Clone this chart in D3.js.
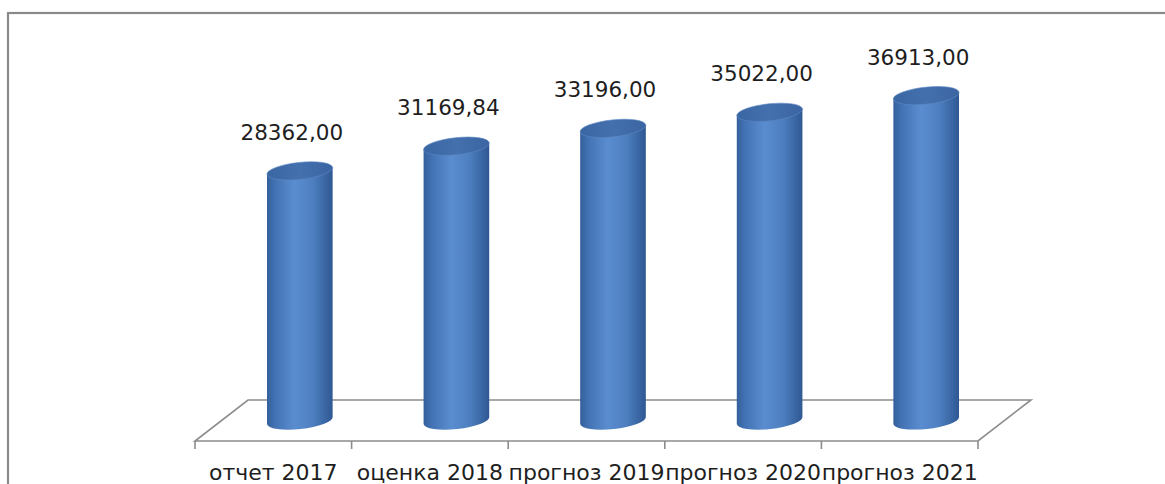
<!DOCTYPE html>
<html>
<head>
<meta charset="utf-8">
<script src="https://cdn.jsdelivr.net/npm/d3@7"></script>
<style>
  body { margin: 0; background: #fff; }
  svg { display: block; }
  .val { font-family: "DejaVu Sans", sans-serif; font-size: 21.5px; fill: #1e1e1e; }
  .cat text { font-family: "DejaVu Sans", sans-serif; font-size: 22px; fill: #1e1e1e; }
</style>
</head>
<body>
<div id="chart"></div>
<script>
// chart data
const categories = ["отчет 2017", "оценка 2018", "прогноз 2019", "прогноз 2020", "прогноз 2021"];
const values = [28362.00, 31169.84, 33196.00, 35022.00, 36913.00];

const W = 1165, H = 484;
// floor of the 3d plot: front edge and depth offset
const front = { left: 195, right: 978, y: 441 };
const depth = { dx: 53, dy: -41 };
const rx = 33, ry = 8.5, tilt = -6; // cylinder ellipse

const svg = d3.select("#chart").append("svg")
  .attr("width", W)
  .attr("height", H);

// gradients for cylinder body and cap
const defs = svg.append("defs");
const bodyGrad = defs.append("linearGradient").attr("id", "body")
  .attr("x1", "0%").attr("x2", "100%").attr("y1", "0%").attr("y2", "0%");
[["0%", "#34609c"], ["12%", "#4272b3"], ["42%", "#5a8dd0"], ["70%", "#4d7fc0"], ["100%", "#2f5893"]]
  .forEach(s => bodyGrad.append("stop").attr("offset", s[0]).attr("stop-color", s[1]));
const capGrad = defs.append("linearGradient").attr("id", "cap")
  .attr("x1", "0%").attr("x2", "100%").attr("y1", "0%").attr("y2", "0%");
[["0%", "#3a66a4"], ["50%", "#4470ad"], ["100%", "#3a65a2"]]
  .forEach(s => capGrad.append("stop").attr("offset", s[0]).attr("stop-color", s[1]));

// chart border (right and bottom sides fall outside the picture)
svg.append("rect")
  .attr("x", 8).attr("y", 13)
  .attr("width", 1300).attr("height", 600)
  .attr("fill", "none")
  .attr("stroke", "#8a8a8a")
  .attr("stroke-width", 2.2);

// scales
const x = d3.scaleBand()
  .domain(categories)
  .range([front.left, front.right])
  .padding(0);

const baseY = front.y + depth.dy / 2;
const y = d3.scaleLinear()
  .domain([0, 40000])
  .range([baseY, baseY - 352]);

// floor parallelogram
const floor = d3.path();
floor.moveTo(front.left, front.y);
floor.lineTo(front.right, front.y);
floor.lineTo(front.right + depth.dx, front.y + depth.dy);
floor.lineTo(front.left + depth.dx, front.y + depth.dy);
floor.closePath();
svg.append("path")
  .attr("d", floor.toString())
  .attr("fill", "none")
  .attr("stroke", "#8c8c8c")
  .attr("stroke-width", 1.6);

// tick marks on band boundaries
const bounds = categories.map(d => x(d)).concat([x(categories[categories.length - 1]) + x.bandwidth()]);
svg.selectAll(".tick-mark")
  .data(bounds)
  .enter().append("line")
  .attr("class", "tick-mark")
  .attr("x1", d => d).attr("x2", d => d)
  .attr("y1", front.y).attr("y2", front.y + 8)
  .attr("stroke", "#8c8c8c")
  .attr("stroke-width", 1.6);

// category labels
const axis = svg.append("g")
  .attr("class", "cat")
  .attr("transform", `translate(0,${front.y})`)
  .call(d3.axisBottom(x).tickSize(0).tickPadding(23));
axis.select(".domain").remove();

// cylinder center for a category
const cx = d => x(d) + x.bandwidth() / 2 + depth.dx / 2;
const t = tilt * Math.PI / 180;
const ox = rx * Math.cos(t), oy = rx * Math.sin(t);

function cylinderBody(c, yTop) {
  return `M${c - ox},${yTop - oy} L${c - ox},${baseY - oy} ` +
    `A${rx},${ry} ${tilt} 0 0 ${c + ox},${baseY + oy} ` +
    `L${c + ox},${yTop + oy} Z`;
}

const bars = svg.selectAll(".bar")
  .data(values)
  .enter().append("g")
  .attr("class", "bar");

bars.append("path")
  .attr("d", (d, i) => cylinderBody(cx(categories[i]), y(d)))
  .attr("fill", "url(#body)");

bars.append("ellipse")
  .attr("cx", 0).attr("cy", 0)
  .attr("rx", rx).attr("ry", ry)
  .attr("transform", (d, i) => `translate(${cx(categories[i])},${y(d)}) rotate(${tilt})`)
  .attr("fill", "url(#cap)")
  .attr("stroke", "#5b87c2")
  .attr("stroke-width", 0.6);

// value labels
const fmt = v => d3.format(".2f")(v).replace(".", ",");
svg.selectAll(".val")
  .data(values)
  .enter().append("text")
  .attr("class", "val")
  .attr("x", (d, i) => cx(categories[i]) - 8)
  .attr("y", d => y(d) - 31)
  .attr("text-anchor", "middle")
  .text(d => fmt(d));
</script>
</body>
</html>
